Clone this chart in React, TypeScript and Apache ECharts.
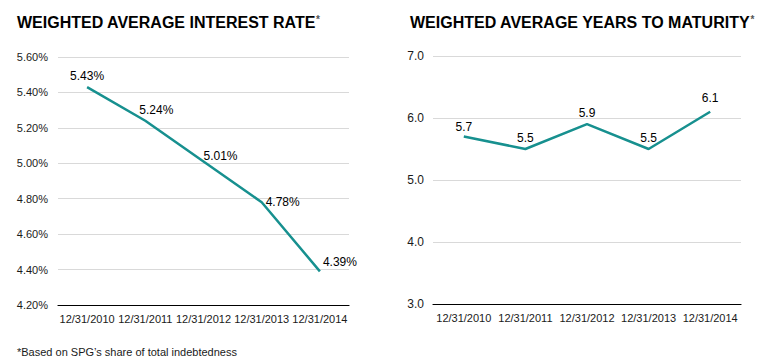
import React, { useEffect, useRef } from "react";
import * as echarts from "echarts";

const categories = ["12/31/2010", "12/31/2011", "12/31/2012", "12/31/2013", "12/31/2014"];
const interestRate = [5.43, 5.24, 5.01, 4.78, 4.39];
const yearsToMaturity = [5.7, 5.5, 5.9, 5.5, 6.1];
const leftTitle = "WEIGHTED AVERAGE INTEREST RATE";
const rightTitle = "WEIGHTED AVERAGE YEARS TO MATURITY";
const footnote = "*Based on SPG\u2019s share of total indebtedness";

const rateLabelOffsets: [number, number][] = [[0, 0], [11, 0], [17, 5], [21, 11], [20, 2]];
const maturityLabelOffsets: [number, number][] = [[0, 1], [0, 0], [0, 0], [0, 0], [0, -3]];

const FONT = "Liberation Sans, Arial, sans-serif";
const TEAL = "#17908f";

export default function App() {
  const ref = useRef<HTMLDivElement>(null);
  useEffect(() => {
    if (!ref.current) return;
    const chart = echarts.init(ref.current, null, { renderer: "svg" });
    const xAxisCommon = {
      type: "category" as const,
      data: categories,
      boundaryGap: true,
      axisLine: { lineStyle: { color: "#000", width: 1.2 } },
      axisTick: { inside: true, length: 4, lineStyle: { color: "#000" } },
      axisLabel: { fontSize: 11, color: "#1a1a1a", fontFamily: FONT, margin: 8, interval: 0 },
      splitLine: { show: false },
    };
    const yAxisCommon = {
      type: "value" as const,
      axisLine: { show: false },
      axisTick: { show: false },
      splitLine: { lineStyle: { color: "#d9d9d9", width: 1 } },
    };
    const labelStyle = { fontSize: 12, color: "#000", fontFamily: FONT };
    const titleStyle = {
      fontSize: 16,
      fontWeight: "bold",
      color: "#000",
      fontFamily: FONT,
      rich: { s: { fontSize: 10, color: "#555", verticalAlign: "top", padding: [0, 0, 6, 0] } },
    };
    chart.setOption({
      animation: false,
      backgroundColor: "#fff",
      title: [
        { text: leftTitle + "{s|*}", left: 17, top: 14, padding: 0, textStyle: titleStyle },
        { text: rightTitle + "{s|*}", left: 410, top: 14, padding: 0, textStyle: titleStyle },
      ],
      grid: [
        { left: 58, right: 416, top: 57, bottom: 56 },
        { left: 433, right: 24, top: 56, bottom: 57 },
      ],
      xAxis: [
        { ...xAxisCommon, gridIndex: 0 },
        { ...xAxisCommon, gridIndex: 1 },
      ],
      yAxis: [
        {
          ...yAxisCommon,
          gridIndex: 0,
          min: 4.2,
          max: 5.6,
          interval: 0.2,
          axisLabel: {
            fontSize: 11,
            color: "#1a1a1a",
            fontFamily: FONT,
            margin: 10,
            formatter: (v: number) => v.toFixed(2) + "%",
          },
        },
        {
          ...yAxisCommon,
          gridIndex: 1,
          min: 3,
          max: 7,
          interval: 1,
          axisLabel: {
            fontSize: 12,
            color: "#1a1a1a",
            fontFamily: FONT,
            margin: 9,
            formatter: (v: number) => v.toFixed(1),
          },
        },
      ],
      series: [
        {
          type: "line",
          xAxisIndex: 0,
          yAxisIndex: 0,
          data: interestRate.map((v, i) => ({
            value: v,
            label: { offset: rateLabelOffsets[i] },
          })),
          showSymbol: true,
          symbol: "circle",
          symbolSize: 0,
          itemStyle: { color: TEAL },
          lineStyle: { color: TEAL, width: 2.5 },
          label: {
            show: true,
            position: "top",
            distance: 5,
            ...labelStyle,
            formatter: (p: any) => Number(p.value).toFixed(2) + "%",
          },
        },
        {
          type: "line",
          xAxisIndex: 1,
          yAxisIndex: 1,
          data: yearsToMaturity.map((v, i) => ({
            value: v,
            label: { offset: maturityLabelOffsets[i] },
          })),
          showSymbol: true,
          symbol: "circle",
          symbolSize: 0,
          itemStyle: { color: TEAL },
          lineStyle: { color: TEAL, width: 2.5 },
          label: {
            show: true,
            position: "top",
            distance: 5,
            ...labelStyle,
            formatter: (p: any) => Number(p.value).toFixed(1),
          },
        },
      ],
      graphic: [
        {
          type: "text",
          left: 17,
          top: 346,
          style: { text: footnote, fontSize: 11, fill: "#1a1a1a", fontFamily: FONT },
        },
      ],
    });
    return () => chart.dispose();
  }, []);
  return (
    <div
      ref={ref}
      style={{ position: "absolute", left: 0, top: 0, width: 765, height: 361 }}
    />
  );
}
